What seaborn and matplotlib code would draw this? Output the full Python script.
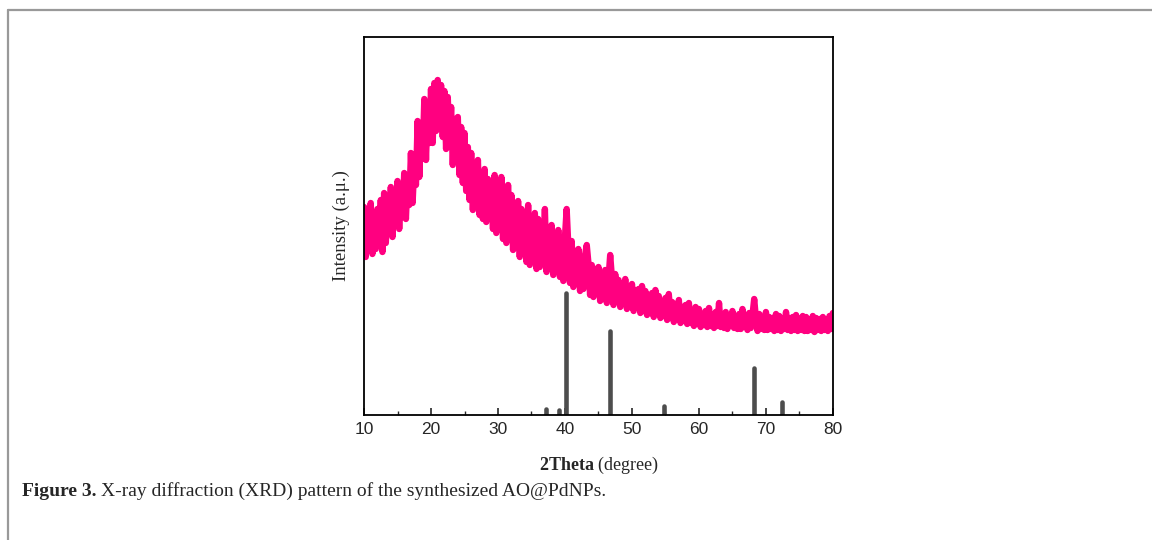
import numpy as np
import pandas as pd
import matplotlib
matplotlib.use("Agg")
import matplotlib.pyplot as plt
from matplotlib.lines import Line2D
import seaborn as sns

# scan data: 2theta from 10 to 80 deg, step 0.25 (intensity in a.u.)
theta_start = 10.0
theta_step = 0.25
intensity = [
    208, 158, 196, 170, 212, 161, 200, 166,   # 10-11
    206, 170, 215, 163, 222, 172, 208, 182,   # 12-13
    228, 178, 220, 190, 234, 186, 226, 198,   # 14-15
    242, 196, 238, 210, 262, 212, 250, 230,   # 16-17
    294, 238, 286, 256, 316, 255, 310, 272,   # 18-19
    326, 272, 332, 284, 335, 292, 330, 278,   # 20-21
    324, 266, 318, 270, 308, 250, 296, 256,   # 22-23
    298, 240, 288, 232, 282, 224, 268, 215,   # 24-25
    262, 205, 248, 214, 255, 200, 240, 196,   # 26-27
    246, 193, 236, 200, 232, 186, 240, 182,   # 28-29
    228, 190, 238, 176, 224, 172, 230, 178,   # 30-31
    220, 165, 212, 170, 214, 158, 206, 162,   # 32-33
    203, 153, 210, 150, 198, 156, 202, 146,   # 34-35
    196, 148, 190, 152, 206, 143, 187, 146,   # 36-37
    190, 140, 182, 145, 185, 138, 176, 134,   # 38-39
    178, 206, 170, 132, 174, 128, 164, 131,   # 40-41
    166, 124, 158, 126, 160, 170, 152, 120,   # 42-43
    150, 118, 146, 121, 148, 114, 140, 117,   # 44-45
    145, 112, 136, 160, 138, 110, 141, 113,   # 46-47
    135, 108, 130, 112, 136, 106, 127, 109,   # 48-49
    131, 104, 125, 108, 126, 102, 129, 104,   # 50-51
    124, 100, 118, 103, 122, 98, 125, 101,    # 52-53
    119, 97, 114, 99, 117, 95, 121, 98,       # 54-55
    113, 93, 109, 96, 115, 92, 108, 94,       # 56-57
    110, 91, 112, 92, 104, 89, 108, 91,       # 58-59
    106, 88, 101, 90, 104, 88, 107, 89,       # 60-61
    100, 87, 103, 89, 112, 88, 100, 87,       # 62-63
    103, 86, 98, 89, 104, 87, 99, 86,         # 64-65
    101, 86, 106, 88, 99, 85, 102, 87,        # 66-67
    100, 116, 97, 84, 101, 86, 97, 85,        # 68-69
    103, 85, 98, 86, 97, 84, 101, 85,         # 70-71
    99, 84, 96, 86, 103, 85, 97, 84,          # 72-73
    98, 85, 100, 84, 96, 85, 99, 84,          # 74-75
    98, 84, 95, 85, 99, 83, 97, 85,           # 76-77
    96, 84, 98, 85, 95, 84, 99, 86,           # 78-79
    102,                                      # 80
]
two_theta = [theta_start + i * theta_step for i in range(len(intensity))]

# reference pattern (Pd) stick positions and heights
ref_pos = [37.2, 39.15, 40.2, 46.7, 54.8, 68.2, 72.4]
ref_height = [6, 5, 122, 84, 9, 47, 13]

df = pd.DataFrame({"two_theta": two_theta, "intensity": intensity})

sns.set_style("white")
plt.rcParams["mathtext.fontset"] = "custom"
plt.rcParams["mathtext.rm"] = "Liberation Serif"
plt.rcParams["mathtext.bf"] = "Liberation Serif:bold"

fig = plt.figure(figsize=(11.52, 5.4), dpi=100)
ax = fig.add_axes([0.316, 0.2315, 0.407, 0.70])

ax.vlines(ref_pos, 0, ref_height, color="#4d4d4d", linewidth=3.3, capstyle="round")
sns.lineplot(data=df, x="two_theta", y="intensity", ax=ax, color="#ff0080",
             linewidth=4.6, estimator=None, solid_capstyle="round")

ax.set_xlim(10, 80)
ax.set_ylim(0, 378)
ax.set_xticks(range(10, 81, 10))
ax.set_xticks(range(15, 80, 10), minor=True)
ax.set_yticks([])
ax.tick_params(axis="x", which="major", direction="in", length=5, width=1.2,
               labelsize=12.5, pad=5, top=False, bottom=True)
ax.tick_params(axis="x", which="minor", direction="in", length=3, width=1.0,
               top=False, bottom=True)
for lab in ax.get_xticklabels():
    lab.set_fontfamily("Liberation Sans")
for sp in ax.spines.values():
    sp.set_visible(True)
    sp.set_color("black")
    sp.set_linewidth(1.3)

ax.set_xlabel(r"$\mathbf{2Theta}$ (degree)", fontfamily="Liberation Serif",
              fontsize=13, labelpad=13)
ax.set_ylabel("Intensity (a.\u03bc.)", fontfamily="Liberation Serif",
              fontsize=13.5, labelpad=10)

# page frame and caption
fig.add_artist(Line2D([0.007, 1.0], [0.981, 0.981], color="#999999", linewidth=1.6))
fig.add_artist(Line2D([0.007, 0.007], [0.0, 0.981], color="#999999", linewidth=1.6))
cap_bold = fig.text(0.019, 0.082, "Figure 3.", fontfamily="Liberation Serif",
                    fontweight="bold", fontsize=14, va="baseline", ha="left")
ax.annotate("X-ray diffraction (XRD) pattern of the synthesized AO@PdNPs.",
            xy=(1, 0), xycoords=cap_bold, xytext=(3, 0), textcoords="offset points",
            fontfamily="Liberation Serif", fontsize=14, va="bottom", ha="left",
            annotation_clip=False)

fig.savefig("out.png", dpi=100)
